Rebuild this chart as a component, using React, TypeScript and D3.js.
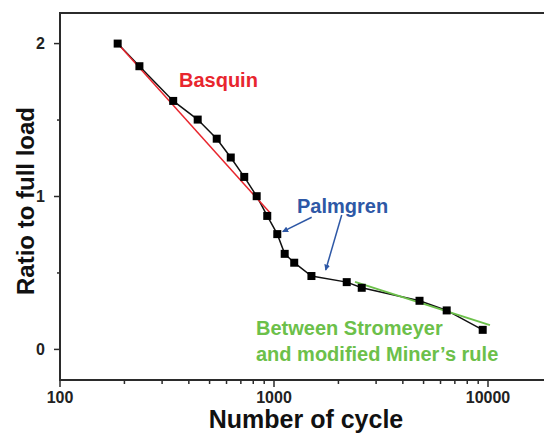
import React from "react";
import * as d3 from "d3";

// measured points (cycles vs load ratio)
const cycles = [186, 235, 338, 440, 540, 628, 726, 830, 930, 1036, 1122, 1243, 1496, 2187, 2570, 4786, 6412, 9446];
const ratios = [2.0, 1.852, 1.625, 1.503, 1.378, 1.255, 1.128, 1.002, 0.873, 0.754, 0.625, 0.567, 0.48, 0.44, 0.403, 0.318, 0.255, 0.128];

// fitted lines
const basquinN = [186, 958];
const basquinR = [2.0, 0.893];
const minerN = [2391, 10210];
const minerR = [0.442, 0.159];

// Palmgren arrows: [from, to]
const arrowFromN = [1500, 2072];
const arrowFromR = [0.864, 0.879];
const arrowToN = [1098, 1744];
const arrowToR = [0.77, 0.519];

const xTicks = [100, 1000, 10000];
const yTicks = [0, 1, 2];
const yMinorTicks = [0.5, 1.5];

const W = 544;
const H = 433;
const font = "'Liberation Sans', Arial, Helvetica, sans-serif";
const axisColor = "#2b2b2b";

const App: React.FC = () => {
  const left = 60;
  const right = W;
  const top = 13;
  const bottom = 380;

  const x = d3.scaleLog().domain([100, 10000]).range([left, 488]);
  const y = d3.scaleLinear().domain([-0.2, 2.2]).range([bottom, top]);

  const pts = cycles.map((c, i) => [c, ratios[i]] as [number, number]);
  const line = d3
    .line<[number, number]>()
    .x((d) => x(d[0]))
    .y((d) => y(d[1]));

  // minor ticks on log axis, within visible range
  const xMax = x.invert(right);
  const xMinor: number[] = [];
  for (let p = 100; p < xMax; p *= 10) {
    for (let k = 2; k <= 9; k++) {
      if (p * k < xMax) xMinor.push(p * k);
    }
  }

  const red = "#e8262e";
  const blue = "#2e58a6";
  const green = "#6cc04a";

  return (
    <svg
      width={W}
      height={H}
      style={{ position: "absolute", left: 0, top: 0, background: "#fff" }}
      fontFamily={font}
    >
      <defs>
        <marker id="arr" viewBox="0 0 10 10" refX="9" refY="5" markerWidth="4" markerHeight="4" orient="auto">
          <path d="M0,0 L10,5 L0,10 z" fill={blue} />
        </marker>
      </defs>

      {/* frame */}
      <line x1={left} y1={top} x2={right} y2={top} stroke={axisColor} strokeWidth={2} />
      <line x1={left} y1={top - 1} x2={left} y2={bottom + 1} stroke={axisColor} strokeWidth={2} />
      <line x1={left - 1} y1={bottom} x2={right} y2={bottom} stroke={axisColor} strokeWidth={2} />

      {/* y ticks */}
      {yTicks.map((t) => (
        <g key={t}>
          <line x1={left - 6} x2={left} y1={y(t)} y2={y(t)} stroke={axisColor} strokeWidth={1.5} />
          <text x={left - 15} y={y(t)} dy="0.35em" textAnchor="end" fontSize={16} fontWeight="bold" fill="#222">
            {t}
          </text>
        </g>
      ))}
      {yMinorTicks.map((t) => (
        <line key={t} x1={left - 3} x2={left} y1={y(t)} y2={y(t)} stroke={axisColor} strokeWidth={1.5} />
      ))}

      {/* x ticks */}
      {xTicks.map((t) => (
        <g key={t}>
          <line x1={x(t)} x2={x(t)} y1={bottom} y2={bottom + 7} stroke={axisColor} strokeWidth={1.5} />
          <text x={x(t)} y={bottom + 23} textAnchor="middle" fontSize={16} fontWeight="bold" fill="#222">
            {t}
          </text>
        </g>
      ))}
      {xMinor.map((t) => (
        <line key={t} x1={x(t)} x2={x(t)} y1={bottom} y2={bottom + 4} stroke={axisColor} strokeWidth={1.5} />
      ))}

      {/* axis titles */}
      <text x={306} y={428} textAnchor="middle" fontSize={25} fontWeight="bold" fill="#111">
        Number of cycle
      </text>
      <text
        transform={`translate(34, 201) rotate(-90)`}
        textAnchor="middle"
        fontSize={24}
        fontWeight="bold"
        fill="#111"
      >
        Ratio to full load
      </text>

      {/* data line */}
      <path d={line(pts) || ""} fill="none" stroke="#111" strokeWidth={1.5} />

      {/* fits */}
      <path
        d={line(basquinN.map((n, i) => [n, basquinR[i]] as [number, number])) || ""}
        fill="none"
        stroke={red}
        strokeWidth={1.5}
      />
      <path
        d={line(minerN.map((n, i) => [n, minerR[i]] as [number, number])) || ""}
        fill="none"
        stroke={green}
        strokeWidth={2}
      />

      {/* markers */}
      {pts.map((d, i) => (
        <rect key={i} x={x(d[0]) - 4} y={y(d[1]) - 4} width={8} height={8} fill="#000" />
      ))}

      {/* annotations */}
      <text x={179} y={87} fontSize={20} fontWeight="bold" fill={red}>
        Basquin
      </text>
      <text x={297} y={213} fontSize={20} fontWeight="bold" fill={blue}>
        Palmgren
      </text>
      {arrowFromN.map((n, i) => (
        <line
          key={i}
          x1={x(n)}
          y1={y(arrowFromR[i])}
          x2={x(arrowToN[i])}
          y2={y(arrowToR[i])}
          stroke={blue}
          strokeWidth={1.5}
          markerEnd="url(#arr)"
        />
      ))}
      <text x={256} y={335} fontSize={20} fontWeight="bold" fill={green}>
        Between Stromeyer
      </text>
      <text x={256} y={361} fontSize={20} fontWeight="bold" fill={green}>
        and modified Miner’s rule
      </text>
    </svg>
  );
};

export default App;
